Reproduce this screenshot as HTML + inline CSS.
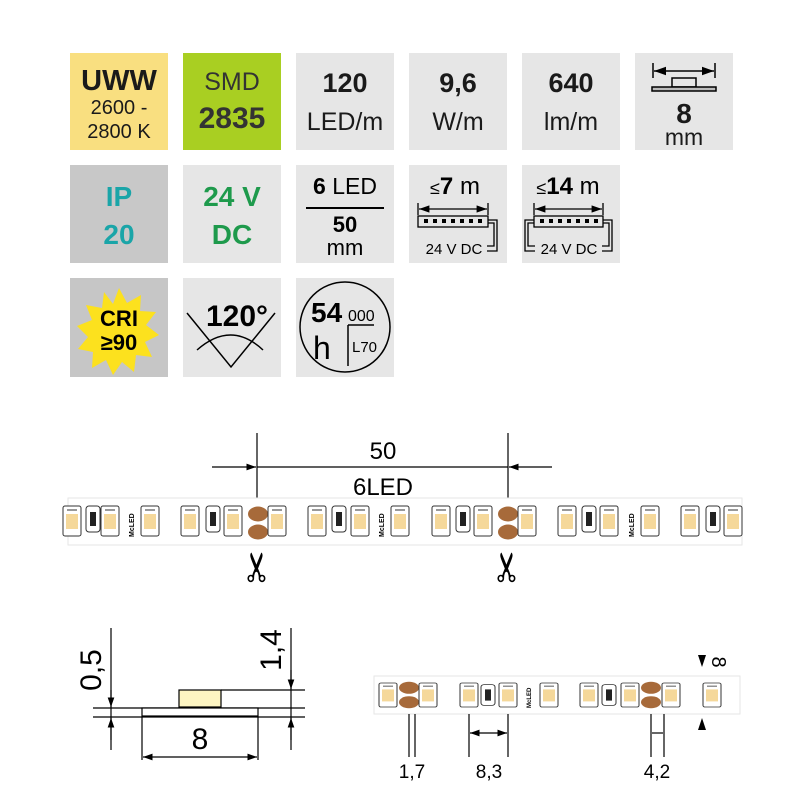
<!DOCTYPE html>
<html><head><meta charset="utf-8"><style>
body{margin:0;background:#fff;width:800px;height:800px;overflow:hidden;font-family:"Liberation Sans","DejaVu Sans",sans-serif}
</style></head><body>
<svg width="800" height="800" viewBox="0 0 800 800" xmlns="http://www.w3.org/2000/svg" font-family="Liberation Sans, DejaVu Sans, sans-serif">
<defs>
<marker id="ar" viewBox="0 0 10 10" refX="10" refY="5" markerWidth="8" markerHeight="8" orient="auto-start-reverse"><path d="M0,1.5L10,5L0,8.5z" fill="#000"/></marker>
<g id="led"><rect x="-9" y="-15" width="18" height="30" rx="2" fill="#fff" stroke="#333" stroke-width="1"/><rect x="-6" y="-7" width="12" height="15" fill="#f5d89a"/><path d="M-5,-11h10" stroke="#777" stroke-width="1.5"/></g>
<g id="res"><rect x="-7" y="-13" width="14" height="26" rx="3" fill="#fff" stroke="#333"/><rect x="-3" y="-7" width="6" height="14" fill="#222"/></g>
<g id="pad"><ellipse cx="0" cy="-9" rx="10" ry="7.5" fill="#a76a3a"/><ellipse cx="0" cy="9" rx="10" ry="7.5" fill="#a76a3a"/></g>
</defs>
<!-- tiles row1 -->
<rect x="70" y="53" width="98" height="97" fill="#f9df80"/>
<rect x="183" y="53" width="98" height="97" fill="#a9cf22"/>
<rect x="296" y="53" width="98" height="97" fill="#e6e6e6"/>
<rect x="409" y="53" width="98" height="97" fill="#e6e6e6"/>
<rect x="522" y="53" width="98" height="97" fill="#e6e6e6"/>
<rect x="635" y="53" width="98" height="97" fill="#e6e6e6"/>
<g text-anchor="middle" fill="#1a1a1a">
<text x="119" y="90" font-size="29" font-weight="bold">UWW</text>
<text x="119" y="114" font-size="20">2600 -</text>
<text x="119" y="138" font-size="20">2800 K</text>
<text x="232" y="90" font-size="25" fill="#333">SMD</text>
<text x="232" y="128" font-size="30" font-weight="bold" fill="#333">2835</text>
<text x="345" y="92" font-size="27" font-weight="bold">120</text>
<text x="345" y="130" font-size="25">LED/m</text>
<text x="458" y="92" font-size="27" font-weight="bold">9,6</text>
<text x="458" y="130" font-size="25">W/m</text>
<text x="571" y="92" font-size="27" font-weight="bold">640</text>
<text x="571" y="130" font-size="25">lm/m</text>
<text x="684" y="123" font-size="28" font-weight="bold">8</text>
<text x="684" y="145" font-size="23">mm</text>
</g>
<g stroke="#000" stroke-width="1.5" fill="none">
<line x1="654" y1="71" x2="714" y2="71" marker-start="url(#ar)" marker-end="url(#ar)"/>
<line x1="653" y1="63" x2="653" y2="78"/><line x1="715" y1="63" x2="715" y2="78"/>
<rect x="672" y="78" width="24" height="9" fill="#e6e6e6"/>
<rect x="652" y="87" width="64" height="4" fill="#bbb"/>
</g>
<!-- row2 -->
<rect x="70" y="165" width="98" height="98" fill="#c8c8c8"/>
<rect x="183" y="165" width="98" height="98" fill="#e6e6e6"/>
<rect x="296" y="165" width="98" height="98" fill="#e6e6e6"/>
<rect x="409" y="165" width="98" height="98" fill="#e6e6e6"/>
<rect x="522" y="165" width="98" height="98" fill="#e6e6e6"/>
<g text-anchor="middle" font-weight="bold">
<text x="119" y="206" font-size="28" fill="#1aa5a8">IP</text>
<text x="119" y="244" font-size="28" fill="#1aa5a8">20</text>
<text x="232" y="206" font-size="28" fill="#1e9a4c">24 V</text>
<text x="232" y="244" font-size="28" fill="#1e9a4c">DC</text>
</g>
<text x="345" y="194" font-size="23" text-anchor="middle"><tspan font-weight="bold">6</tspan> LED</text>
<line x1="306" y1="208" x2="384" y2="208" stroke="#000" stroke-width="2"/>
<text x="345" y="232" font-size="22" text-anchor="middle" font-weight="bold">50</text>
<text x="345" y="255" font-size="22" text-anchor="middle">mm</text>
<text x="455" y="194" font-size="24" text-anchor="middle"><tspan font-size="18">≤</tspan><tspan font-weight="bold">7</tspan> m</text>
<text x="568" y="194" font-size="24" text-anchor="middle"><tspan font-size="18">≤</tspan><tspan font-weight="bold">14</tspan> m</text>
<g stroke="#000" stroke-width="1.3" fill="none">
<line x1="419" y1="209" x2="487" y2="209" marker-start="url(#ar)" marker-end="url(#ar)"/>
<line x1="418" y1="203" x2="418" y2="215"/><line x1="488" y1="203" x2="488" y2="215"/>
<rect x="418" y="216" width="70" height="11"/>
<path d="M488,220h9v31h-10"/><path d="M488,223h6v23h-7"/>
<line x1="535" y1="209" x2="602" y2="209" marker-start="url(#ar)" marker-end="url(#ar)"/>
<line x1="534" y1="203" x2="534" y2="215"/><line x1="603" y1="203" x2="603" y2="215"/>
<rect x="534" y="216" width="69" height="11"/>
<path d="M603,220h9v31h-10"/><path d="M603,223h6v23h-7"/>
<path d="M534,220h-9v31h10"/><path d="M534,223h-6v23h7"/>
</g>
<g fill="#000"><rect x="424" y="219" width="4" height="4"/><rect x="433" y="219" width="4" height="4"/><rect x="442" y="219" width="4" height="4"/><rect x="451" y="219" width="4" height="4"/><rect x="460" y="219" width="4" height="4"/><rect x="469" y="219" width="4" height="4"/><rect x="478" y="219" width="4" height="4"/>
<rect x="540" y="219" width="4" height="4"/><rect x="549" y="219" width="4" height="4"/><rect x="558" y="219" width="4" height="4"/><rect x="567" y="219" width="4" height="4"/><rect x="576" y="219" width="4" height="4"/><rect x="585" y="219" width="4" height="4"/><rect x="594" y="219" width="4" height="4"/></g>
<text x="454" y="254" font-size="15" text-anchor="middle">24 V DC</text>
<text x="569" y="254" font-size="15" text-anchor="middle">24 V DC</text>
<!-- row3 -->
<rect x="70" y="278" width="98" height="99" fill="#c6c6c6"/>
<rect x="183" y="278" width="98" height="99" fill="#e6e6e6"/>
<rect x="296" y="278" width="98" height="99" fill="#e6e6e6"/>
<polygon fill="#fce11e" points="119,288 127,303 141,295 140,311 156,312 146,325 159,335 145,342 152,357 136,355 134,372 122,362 113,375 106,360 92,368 93,352 78,349 88,337 77,326 92,320 86,305 102,308 104,292 113,304" />
<text x="119" y="326" font-size="22" font-weight="bold" text-anchor="middle">CRI</text>
<text x="119" y="350" font-size="22" font-weight="bold" text-anchor="middle">≥90</text>
<text x="237" y="326" font-size="30" font-weight="bold" text-anchor="middle">120°</text>
<g stroke="#000" stroke-width="1.5" fill="none">
<path d="M187,313L231,367L275,313"/>
<path d="M197,350Q231,320 263,350"/>
<circle cx="345" cy="327" r="45"/>
<path d="M348,325V366M348,325H374"/>
</g>
<text x="311" y="322" font-size="28" font-weight="bold">54</text>
<text x="348" y="321" font-size="16">000</text>
<text x="313" y="359" font-size="32">h</text>
<text x="352" y="352" font-size="15">L70</text>
<!-- dimension 50 -->
<g stroke="#000" stroke-width="1.2" fill="none">
<line x1="257" y1="433" x2="257" y2="500"/><line x1="508" y1="433" x2="508" y2="500"/>
<line x1="212" y1="467" x2="256" y2="467" marker-end="url(#ar)"/>
<line x1="257" y1="467" x2="508" y2="467"/>
<line x1="552" y1="467" x2="509" y2="467" marker-end="url(#ar)"/>
</g>
<text x="383" y="459" font-size="24" text-anchor="middle">50</text>
<text x="383" y="495" font-size="24" text-anchor="middle">6LED</text>
<!-- strip 1 -->
<rect x="68" y="498" width="674" height="47" fill="#fff" stroke="#e6e6e6"/>
<g>
<use href="#led" x="72" y="521"/><use href="#res" x="93" y="519"/><use href="#led" x="110" y="521"/><use href="#led" x="150" y="521"/><use href="#led" x="190" y="521"/><use href="#res" x="213" y="519"/><use href="#led" x="233" y="521"/>
<use href="#pad" x="258" y="523"/>
<use href="#led" x="277" y="521"/><use href="#led" x="317" y="521"/><use href="#res" x="339" y="519"/><use href="#led" x="360" y="521"/><use href="#led" x="400" y="521"/><use href="#led" x="441" y="521"/><use href="#res" x="463" y="519"/><use href="#led" x="483" y="521"/>
<use href="#pad" x="508" y="523"/>
<use href="#led" x="527" y="521"/><use href="#led" x="567" y="521"/><use href="#res" x="589" y="519"/><use href="#led" x="609" y="521"/><use href="#led" x="650" y="521"/><use href="#led" x="690" y="521"/><use href="#res" x="713" y="519"/><use href="#led" x="733" y="521"/>
</g>
<text x="0" y="0" font-size="7" font-weight="bold" transform="translate(134,537) rotate(-90)">McLED</text>
<text x="0" y="0" font-size="7" font-weight="bold" transform="translate(384,537) rotate(-90)">McLED</text>
<text x="0" y="0" font-size="7" font-weight="bold" transform="translate(634,537) rotate(-90)">McLED</text>
<text font-size="40" text-anchor="middle" dominant-baseline="central" transform="translate(258,567) rotate(-90)">✂</text>
<text font-size="40" text-anchor="middle" dominant-baseline="central" transform="translate(508,567) rotate(-90)">✂</text>
<!-- cross section -->
<g stroke="#000" stroke-width="1.2" fill="none">
<line x1="93" y1="708" x2="305" y2="708"/><line x1="93" y1="717" x2="305" y2="717"/>
<rect x="142" y="708" width="116" height="8" fill="#fff"/>
<rect x="179" y="690" width="42" height="17" fill="#fdf5c2"/>
<line x1="221" y1="690" x2="305" y2="690"/>
<line x1="111" y1="628" x2="111" y2="750"/>
<line x1="111" y1="690" x2="111" y2="707" marker-end="url(#ar)"/>
<line x1="111" y1="740" x2="111" y2="718" marker-end="url(#ar)"/>
<line x1="291" y1="628" x2="291" y2="750"/>
<line x1="291" y1="670" x2="291" y2="689" marker-end="url(#ar)"/>
<line x1="291" y1="740" x2="291" y2="718" marker-end="url(#ar)"/>
<line x1="142" y1="717" x2="142" y2="760"/><line x1="258" y1="717" x2="258" y2="760"/>
<line x1="143" y1="757" x2="257" y2="757" marker-start="url(#ar)" marker-end="url(#ar)"/>
</g>
<text font-size="30" text-anchor="middle" transform="translate(101,670) rotate(-90)">0,5</text>
<text font-size="30" text-anchor="middle" transform="translate(281,650) rotate(-90)">1,4</text>
<text x="200" y="749" font-size="30" text-anchor="middle">8</text>
<!-- strip 2 -->
<rect x="374" y="676" width="366" height="38" fill="#fff" stroke="#e6e6e6"/>
<g transform="translate(0,695) scale(1,0.8)">
<use href="#led" x="388" y="0"/><use href="#pad" x="409" y="0"/><use href="#led" x="428" y="0"/>
<use href="#led" x="469" y="0"/><use href="#res" x="488" y="0"/><use href="#led" x="508" y="0"/><use href="#led" x="549" y="0"/>
<use href="#led" x="589" y="0"/><use href="#res" x="609" y="0"/><use href="#led" x="630" y="0"/><use href="#pad" x="651" y="0"/><use href="#led" x="671" y="0"/><use href="#led" x="712" y="0"/>
</g>
<text font-size="6" font-weight="bold" transform="translate(531,708) rotate(-90)">McLED</text>
<g stroke="#000" stroke-width="1.2" fill="none">
<line x1="409" y1="714" x2="409" y2="757"/><line x1="415" y1="714" x2="415" y2="757"/>
<line x1="469" y1="714" x2="469" y2="757"/><line x1="508" y1="714" x2="508" y2="757"/>
<line x1="470" y1="733" x2="507" y2="733" marker-start="url(#ar)" marker-end="url(#ar)"/>
<line x1="651" y1="714" x2="651" y2="757"/><line x1="664" y1="714" x2="664" y2="757"/>
<line x1="652" y1="733" x2="663" y2="733"/>
</g>
<text x="412" y="778" font-size="19" text-anchor="middle">1,7</text>
<text x="489" y="778" font-size="19" text-anchor="middle">8,3</text>
<text x="657" y="778" font-size="19" text-anchor="middle">4,2</text>
<polygon points="698,655 706,655 702,667" fill="#000"/>
<polygon points="698,730 706,730 702,718" fill="#000"/>
<text font-size="20" text-anchor="middle" transform="translate(712,662) rotate(90)">8</text>
</svg>
</body></html>
